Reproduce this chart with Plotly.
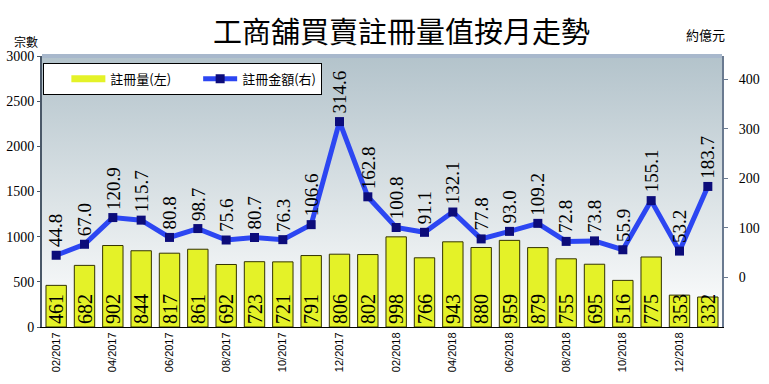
import plotly.graph_objects as go

months = ["02/2017", "03/2017", "04/2017", "05/2017", "06/2017", "07/2017",
          "08/2017", "09/2017", "10/2017", "11/2017", "12/2017", "01/2018",
          "02/2018", "03/2018", "04/2018", "05/2018", "06/2018", "07/2018",
          "08/2018", "09/2018", "10/2018", "11/2018", "12/2018", "01/2019"]
reg_count = [461, 682, 902, 844, 817, 861, 692, 723, 721, 791, 806, 802,
             998, 766, 943, 880, 959, 879, 755, 695, 516, 775, 353, 332]
reg_value = [44.8, 67.0, 120.9, 115.7, 80.8, 98.7, 75.6, 80.7, 76.3, 106.6, 314.6, 162.8,
             100.8, 91.1, 132.1, 77.8, 93.0, 109.2, 72.8, 73.8, 55.9, 155.1, 53.2, 183.7]
left_ticks = [0, 500, 1000, 1500, 2000, 2500, 3000]
right_ticks = [0, 100, 200, 300, 400]

title_text = "工商舖買賣註冊量值按月走勢"
left_unit = "宗數"
right_unit = "約億元"
bar_name = "註冊量(左)"
line_name = "註冊金額(右)"

x = list(range(len(months)))
n = len(months)
LEFT_RANGE = [0, 3000]
RIGHT_RANGE = [-100, 447]
BAR_COLOR = "#e4f228"

fig = go.Figure()

# background gradient of plot area (on base subplot, below everything)
fig.add_trace(go.Scatter(
    x=[-0.5, n - 0.5, n - 0.5, -0.5, -0.5], y=[0, 0, 3000, 3000, 0],
    mode="lines", line=dict(width=0), fill="toself",
    fillgradient=dict(type="vertical", start=0, stop=3000,
                      colorscale=[[0, "#ffffff"], [0.45, "#dde4e7"], [1, "#b3c3cb"]]),
    hoverinfo="skip", showlegend=False))

fig.add_trace(go.Bar(
    x=x, y=reg_count, name=bar_name, yaxis="y2", showlegend=False,
    marker=dict(color=BAR_COLOR, line=dict(color="#333300", width=1)),
    width=0.72,
    text=[str(v) for v in reg_count], textposition="inside", insidetextanchor="start",
    textangle=-90, constraintext="none",
    textfont=dict(family="Liberation Serif", size=20, color="black"),
))

# legend-only entry for the bars (wide swatch as in the original legend)
fig.add_trace(go.Scatter(
    x=[None], y=[None], name=bar_name, yaxis="y2", mode="lines",
    line=dict(color=BAR_COLOR, width=7), hoverinfo="skip"))

fig.add_trace(go.Scatter(
    x=x, y=reg_value, name=line_name, yaxis="y3", mode="lines+markers",
    line=dict(color="#2c46f2", width=5),
    marker=dict(symbol="square", size=9, color="#0c0c7a"),
))

annotations = []
for i, v in zip(x, reg_value):
    annotations.append(dict(
        x=i, y=v, xref="x", yref="y3", text=f"{v:.1f}", showarrow=False,
        textangle=-90, xanchor="center", yanchor="bottom", yshift=6,
        font=dict(family="Liberation Serif", size=19, color="black")))

annotations.append(dict(x=-0.024, y=1.055, xref="paper", yref="paper", text=left_unit,
                        showarrow=False, xanchor="center", yanchor="middle",
                        font=dict(family="Noto Sans CJK TC", size=12, color="black")))
annotations.append(dict(x=0.975, y=1.08, xref="paper", yref="paper", text=right_unit,
                        showarrow=False, xanchor="center", yanchor="middle",
                        font=dict(family="Noto Sans CJK TC", size=13, color="black")))

fig.update_layout(
    width=769, height=384,
    margin=dict(l=42, r=47, t=56, b=57, autoexpand=False),
    paper_bgcolor="white", plot_bgcolor="white",
    title=dict(text=title_text, x=0.522, xanchor="center", y=0.915, yanchor="middle",
               font=dict(family="Noto Sans CJK TC", size=29, color="black")),
    xaxis=dict(range=[-0.5, n - 0.5], tickmode="array", tickvals=x[::2],
               ticktext=months[::2], tickangle=-90, automargin=False,
               tickfont=dict(family="Liberation Sans", size=11, color="black"),
               showgrid=False, zeroline=False, showline=True, linecolor="black",
               linewidth=1, ticks="", fixedrange=True),
    yaxis=dict(range=LEFT_RANGE, tickvals=left_ticks, showgrid=False, zeroline=False,
               automargin=False,
               tickfont=dict(family="Liberation Serif", size=14, color="black"),
               showline=True, linecolor="#4a5868", linewidth=2,
               ticks="outside", ticklen=3, tickcolor="#4a5868"),
    yaxis2=dict(range=LEFT_RANGE, overlaying="y", visible=False, automargin=False),
    yaxis3=dict(range=RIGHT_RANGE, tickvals=right_ticks, overlaying="y", side="right",
                showgrid=False, zeroline=False, automargin=False,
                tickfont=dict(family="Liberation Serif", size=14, color="black"),
                showline=True, linecolor="#6a7a90", linewidth=2,
                ticks="outside", ticklen=4, tickcolor="#6a7a90", ticklabelstandoff=8),
    legend=dict(orientation="h", x=0.002, y=0.975, xanchor="left", yanchor="top",
                bgcolor="white", bordercolor="black", borderwidth=1,
                font=dict(family="Noto Sans CJK TC", size=13, color="black"),
                itemwidth=34, indentation=22, traceorder="normal"),
    annotations=annotations,
    shapes=[dict(type="line", xref="paper", yref="paper", x0=0, x1=1, y0=1, y1=1,
                 line=dict(color="#a8b8cc", width=4))],
    bargap=0.28,
)

fig.write_html("out.html", config={"displayModeBar": False},
               post_script="document.body.style.margin='0px';document.body.style.overflow='hidden';")
